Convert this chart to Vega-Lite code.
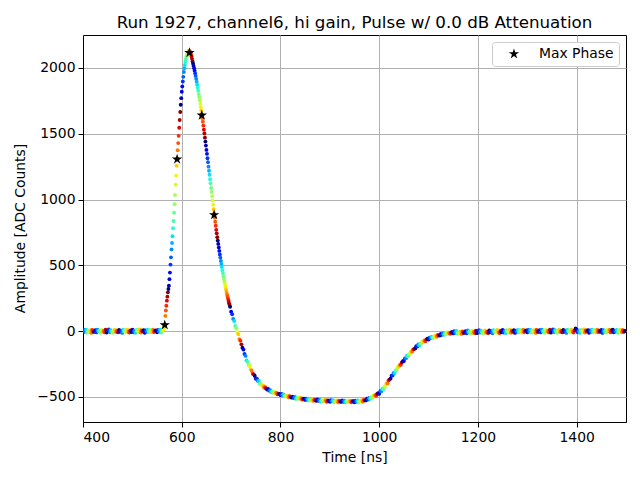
{
  "$schema": "https://vega.github.io/schema/vega-lite/v6.json",
  "width": 543,
  "height": 387,
  "autosize": {"type": "none"},
  "padding": {"left": 83, "top": 35, "right": 14, "bottom": 58},
  "title": {"text": "Run 1927, channel6, hi gain, Pulse w/ 0.0 dB Attenuation", "fontSize": 16.7, "fontWeight": "normal", "color": "black", "offset": 3},
  "config": {
    "font": "DejaVu Sans",
    "view": {"stroke": "black", "strokeWidth": 1},
    "axis": {
      "labelFontSize": 13.9, "labelColor": "black", "labelPadding": 3,
      "titleFontSize": 13.9, "titleFontWeight": "normal", "titleColor": "black",
      "domainColor": "black", "tickColor": "black", "tickSize": 5,
      "gridColor": "#b0b0b0", "gridWidth": 1
    },
    "legend": {
      "labelFontSize": 13.9, "labelColor": "black", "padding": 5,
      "strokeColor": "#cccccc", "fillColor": "white", "cornerRadius": 3,
      "symbolOffset": 10, "labelOffset": 18
    }
  },
  "datasets": {
    "pts": [
      {"t":400.1,"a":-8,"p":2},{"t":402.2,"a":10,"p":4},{"t":404.3,"a":-3,"p":6},{"t":406.3,"a":12,"p":8},{"t":408.4,"a":-11,"p":10},{"t":410.5,"a":3,"p":12},{"t":412.6,"a":-6,"p":14},{"t":414.7,"a":8,"p":16},{"t":416.8,"a":-13,"p":18},{"t":418.8,"a":9,"p":20},{"t":420.9,"a":-4,"p":22},
      {"t":423,"a":-4,"p":0},{"t":425.1,"a":7,"p":2},{"t":427.2,"a":-9,"p":4},{"t":429.3,"a":12,"p":6},{"t":431.3,"a":-2,"p":8},{"t":433.4,"a":6,"p":10},{"t":435.5,"a":-12,"p":12},{"t":437.6,"a":10,"p":14},{"t":439.7,"a":-5,"p":16},{"t":441.8,"a":3,"p":18},{"t":443.8,"a":-8,"p":20},{"t":445.9,"a":11,"p":22},
      {"t":448,"a":-10,"p":0},{"t":450.1,"a":4,"p":2},{"t":452.2,"a":13,"p":4},{"t":454.3,"a":-6,"p":6},{"t":456.3,"a":8,"p":8},{"t":458.4,"a":-3,"p":10},{"t":460.5,"a":-12,"p":12},{"t":462.6,"a":6,"p":14},{"t":464.7,"a":11,"p":16},{"t":466.8,"a":-7,"p":18},{"t":468.8,"a":2,"p":20},{"t":470.9,"a":-9,"p":22},
      {"t":473,"a":9,"p":0},{"t":475.1,"a":-5,"p":2},{"t":477.2,"a":3,"p":4},{"t":479.3,"a":-13,"p":6},{"t":481.3,"a":10,"p":8},{"t":483.4,"a":-2,"p":10},{"t":485.5,"a":7,"p":12},{"t":487.6,"a":-9,"p":14},{"t":489.7,"a":12,"p":16},{"t":491.8,"a":-4,"p":18},{"t":493.8,"a":-11,"p":20},{"t":495.9,"a":5,"p":22},
      {"t":498,"a":-6,"p":0},{"t":500.1,"a":11,"p":2},{"t":502.2,"a":-8,"p":4},{"t":504.3,"a":4,"p":6},{"t":506.3,"a":-12,"p":8},{"t":508.4,"a":9,"p":10},{"t":510.5,"a":2,"p":12},{"t":512.6,"a":-5,"p":14},{"t":514.7,"a":13,"p":16},{"t":516.8,"a":-10,"p":18},{"t":518.8,"a":6,"p":20},{"t":520.9,"a":-3,"p":22},
      {"t":523,"a":8,"p":0},{"t":525.1,"a":-12,"p":2},{"t":527.2,"a":5,"p":4},{"t":529.3,"a":-4,"p":6},{"t":531.3,"a":11,"p":8},{"t":533.4,"a":-7,"p":10},{"t":535.5,"a":10,"p":12},{"t":537.6,"a":-2,"p":14},{"t":539.7,"a":-9,"p":16},{"t":541.8,"a":12,"p":18},{"t":543.8,"a":-6,"p":20},{"t":545.9,"a":3,"p":22},
      {"t":548,"a":5,"p":0},{"t":550.1,"a":-8,"p":2},{"t":552.2,"a":10,"p":4},{"t":554.3,"a":-3,"p":6},{"t":556.3,"a":12,"p":8},{"t":558.4,"a":-11,"p":10},{"t":560.5,"a":4,"p":12},{"t":562.6,"a":9,"p":14},{"t":563.6,"a":14,"p":15},{"t":564.7,"a":33,"p":16},{"t":565.7,"a":50,"p":17},{"t":566.8,"a":116,"p":18},{"t":567.8,"a":157,"p":19},{"t":568.8,"a":193,"p":20},{"t":569.9,"a":232,"p":21},{"t":570.9,"a":262,"p":22},{"t":572,"a":295,"p":23},
      {"t":573,"a":320,"p":0},{"t":574,"a":345,"p":1},{"t":575.1,"a":395,"p":2},{"t":576.1,"a":445,"p":3},{"t":577.2,"a":506,"p":4},{"t":578.2,"a":561,"p":5},{"t":579.3,"a":621,"p":6},{"t":580.3,"a":670,"p":7},{"t":581.3,"a":721,"p":8},{"t":582.4,"a":782,"p":9},{"t":583.4,"a":837,"p":10},{"t":584.5,"a":900,"p":11},{"t":585.5,"a":965,"p":12},{"t":586.5,"a":1035,"p":13},{"t":587.6,"a":1112,"p":14},{"t":588.6,"a":1182,"p":15},{"t":589.7,"a":1256,"p":16},{"t":590.7,"a":1314,"p":17},{"t":591.8,"a":1374,"p":18},{"t":592.8,"a":1429,"p":19},{"t":593.8,"a":1484,"p":20},{"t":594.9,"a":1545,"p":21},{"t":595.9,"a":1604,"p":22},{"t":597,"a":1665,"p":23},
      {"t":598,"a":1720,"p":0},{"t":599,"a":1770,"p":1},{"t":600.1,"a":1819,"p":2},{"t":601.1,"a":1859,"p":3},{"t":602.2,"a":1897,"p":4},{"t":603.2,"a":1932,"p":5},{"t":604.3,"a":1969,"p":6},{"t":605.3,"a":1998,"p":7},{"t":606.3,"a":2023,"p":8},{"t":607.4,"a":2048,"p":9},{"t":608.4,"a":2067,"p":10},{"t":609.5,"a":2085,"p":11},{"t":610.5,"a":2098,"p":12},{"t":611.5,"a":2110,"p":13},{"t":612.6,"a":2119,"p":14},{"t":613.6,"a":2125,"p":15},{"t":614.7,"a":2130,"p":16},{"t":615.7,"a":2130,"p":17},{"t":616.8,"a":2125,"p":18},{"t":617.8,"a":2117,"p":19},{"t":618.8,"a":2103,"p":20},{"t":619.9,"a":2087,"p":21},{"t":620.9,"a":2069,"p":22},{"t":622,"a":2049,"p":23},
      {"t":623,"a":2032,"p":0},{"t":624,"a":2015,"p":1},{"t":625.1,"a":1998,"p":2},{"t":626.1,"a":1979,"p":3},{"t":627.2,"a":1958,"p":4},{"t":628.2,"a":1938,"p":5},{"t":629.3,"a":1916,"p":6},{"t":630.3,"a":1895,"p":7},{"t":631.3,"a":1873,"p":8},{"t":632.4,"a":1849,"p":9},{"t":633.4,"a":1827,"p":10},{"t":634.5,"a":1801,"p":11},{"t":635.5,"a":1778,"p":12},{"t":636.5,"a":1754,"p":13},{"t":637.6,"a":1727,"p":14},{"t":638.6,"a":1702,"p":15},{"t":639.7,"a":1675,"p":16},{"t":640.7,"a":1648,"p":17},{"t":641.8,"a":1618,"p":18},{"t":642.8,"a":1591,"p":19},{"t":643.8,"a":1562,"p":20},{"t":644.9,"a":1531,"p":21},{"t":645.9,"a":1502,"p":22},{"t":647,"a":1470,"p":23},
      {"t":648,"a":1440,"p":0},{"t":649,"a":1410,"p":1},{"t":650.1,"a":1377,"p":2},{"t":651.1,"a":1347,"p":3},{"t":652.2,"a":1314,"p":4},{"t":653.2,"a":1284,"p":5},{"t":654.3,"a":1250,"p":6},{"t":655.3,"a":1219,"p":7},{"t":656.3,"a":1188,"p":8},{"t":657.4,"a":1154,"p":9},{"t":658.4,"a":1123,"p":10},{"t":659.5,"a":1088,"p":11},{"t":660.5,"a":1058,"p":12},{"t":661.5,"a":1026,"p":13},{"t":662.6,"a":992,"p":14},{"t":663.6,"a":961,"p":15},{"t":664.7,"a":927,"p":16},{"t":665.7,"a":897,"p":17},{"t":666.8,"a":862,"p":18},{"t":667.8,"a":831,"p":19},{"t":668.8,"a":801,"p":20},{"t":669.9,"a":770,"p":21},{"t":670.9,"a":743,"p":22},{"t":672,"a":714,"p":23},
      {"t":673,"a":688,"p":0},{"t":674,"a":663,"p":1},{"t":675.1,"a":636,"p":2},{"t":676.1,"a":610,"p":3},{"t":677.2,"a":583,"p":4},{"t":678.2,"a":559,"p":5},{"t":679.3,"a":533,"p":6},{"t":680.3,"a":510,"p":7},{"t":681.3,"a":487,"p":8},{"t":682.4,"a":463,"p":9},{"t":683.4,"a":441,"p":10},{"t":684.5,"a":418,"p":11},{"t":685.5,"a":398,"p":12},{"t":686.5,"a":378,"p":13},{"t":687.6,"a":357,"p":14},{"t":688.6,"a":338,"p":15},{"t":689.7,"a":318,"p":16},{"t":690.7,"a":299,"p":17},{"t":691.8,"a":280,"p":18},{"t":692.8,"a":263,"p":19},{"t":693.8,"a":247,"p":20},{"t":694.9,"a":229,"p":21},{"t":695.9,"a":212,"p":22},{"t":697,"a":198,"p":23},
      {"t":698,"a":186,"p":0},{"t":700.1,"a":148,"p":2},{"t":702.2,"a":129,"p":4},{"t":704.3,"a":93,"p":6},{"t":706.3,"a":77,"p":8},{"t":708.4,"a":39,"p":10},{"t":710.5,"a":22,"p":12},{"t":712.6,"a":-7,"p":14},{"t":714.7,"a":-23,"p":16},{"t":716.8,"a":-60,"p":18},{"t":718.8,"a":-72,"p":20},{"t":720.9,"a":-100,"p":22},
      {"t":723,"a":-126,"p":0},{"t":725.1,"a":-140,"p":2},{"t":727.2,"a":-173,"p":4},{"t":729.3,"a":-188,"p":6},{"t":731.3,"a":-222,"p":8},{"t":733.4,"a":-234,"p":10},{"t":735.5,"a":-259,"p":12},{"t":737.6,"a":-265,"p":14},{"t":739.7,"a":-290,"p":16},{"t":741.8,"a":-300,"p":18},{"t":743.8,"a":-323,"p":20},{"t":745.9,"a":-328,"p":22},
      {"t":748,"a":-340,"p":0},{"t":750.1,"a":-361,"p":2},{"t":752.2,"a":-360,"p":4},{"t":754.3,"a":-378,"p":6},{"t":756.3,"a":-378,"p":8},{"t":758.4,"a":-400,"p":10},{"t":760.5,"a":-401,"p":12},{"t":762.6,"a":-413,"p":14},{"t":764.7,"a":-412,"p":16},{"t":766.8,"a":-430,"p":18},{"t":768.8,"a":-425,"p":20},{"t":770.9,"a":-435,"p":22},
      {"t":773,"a":-444,"p":0},{"t":775.1,"a":-439,"p":2},{"t":777.2,"a":-452,"p":4},{"t":779.3,"a":-449,"p":6},{"t":781.3,"a":-464,"p":8},{"t":783.4,"a":-458,"p":10},{"t":785.5,"a":-469,"p":12},{"t":787.6,"a":-460,"p":14},{"t":789.7,"a":-472,"p":16},{"t":791.8,"a":-468,"p":18},{"t":793.8,"a":-480,"p":20},{"t":795.9,"a":-474,"p":22},
      {"t":798,"a":-476,"p":0},{"t":800.1,"a":-486,"p":2},{"t":802.2,"a":-477,"p":4},{"t":804.3,"a":-487,"p":6},{"t":806.3,"a":-480,"p":8},{"t":808.4,"a":-495,"p":10},{"t":810.5,"a":-490,"p":12},{"t":812.6,"a":-497,"p":14},{"t":814.7,"a":-490,"p":16},{"t":816.8,"a":-503,"p":18},{"t":818.8,"a":-494,"p":20},{"t":820.9,"a":-501,"p":22},
      {"t":823,"a":-505,"p":0},{"t":825.1,"a":-497,"p":2},{"t":827.2,"a":-507,"p":4},{"t":829.3,"a":-500,"p":6},{"t":831.3,"a":-514,"p":8},{"t":833.4,"a":-506,"p":10},{"t":835.5,"a":-514,"p":12},{"t":837.6,"a":-504,"p":14},{"t":839.7,"a":-514,"p":16},{"t":841.8,"a":-509,"p":18},{"t":843.8,"a":-520,"p":20},{"t":845.9,"a":-512,"p":22},
      {"t":848,"a":-513,"p":0},{"t":850.1,"a":-522,"p":2},{"t":852.2,"a":-512,"p":4},{"t":854.3,"a":-521,"p":6},{"t":856.3,"a":-512,"p":8},{"t":858.4,"a":-526,"p":10},{"t":860.5,"a":-520,"p":12},{"t":862.6,"a":-526,"p":14},{"t":864.7,"a":-517,"p":16},{"t":866.8,"a":-530,"p":18},{"t":868.8,"a":-520,"p":20},{"t":870.9,"a":-525,"p":22},
      {"t":873,"a":-529,"p":0},{"t":875.1,"a":-519,"p":2},{"t":877.2,"a":-529,"p":4},{"t":879.3,"a":-522,"p":6},{"t":881.3,"a":-534,"p":8},{"t":883.4,"a":-526,"p":10},{"t":885.5,"a":-533,"p":12},{"t":887.6,"a":-521,"p":14},{"t":889.7,"a":-531,"p":16},{"t":891.8,"a":-525,"p":18},{"t":893.8,"a":-536,"p":20},{"t":895.9,"a":-527,"p":22},
      {"t":898,"a":-528,"p":0},{"t":900.1,"a":-536,"p":2},{"t":902.2,"a":-525,"p":4},{"t":904.3,"a":-533,"p":6},{"t":906.3,"a":-525,"p":8},{"t":908.4,"a":-538,"p":10},{"t":910.5,"a":-531,"p":12},{"t":912.6,"a":-536,"p":14},{"t":914.7,"a":-527,"p":16},{"t":916.8,"a":-540,"p":18},{"t":918.8,"a":-529,"p":20},{"t":920.9,"a":-534,"p":22},
      {"t":923,"a":-537,"p":0},{"t":925.1,"a":-527,"p":2},{"t":927.2,"a":-536,"p":4},{"t":929.3,"a":-528,"p":6},{"t":931.3,"a":-540,"p":8},{"t":933.4,"a":-531,"p":10},{"t":935.5,"a":-538,"p":12},{"t":937.6,"a":-527,"p":14},{"t":939.7,"a":-536,"p":16},{"t":941.8,"a":-530,"p":18},{"t":943.8,"a":-540,"p":20},{"t":945.9,"a":-531,"p":22},
      {"t":948,"a":-532,"p":0},{"t":950.1,"a":-540,"p":2},{"t":952.2,"a":-529,"p":4},{"t":954.3,"a":-537,"p":6},{"t":956.3,"a":-527,"p":8},{"t":958.4,"a":-540,"p":10},{"t":960.5,"a":-532,"p":12},{"t":962.6,"a":-536,"p":14},{"t":964.7,"a":-525,"p":16},{"t":966.8,"a":-536,"p":18},{"t":968.8,"a":-523,"p":20},{"t":970.9,"a":-526,"p":22},
      {"t":973,"a":-526,"p":0},{"t":975.1,"a":-513,"p":2},{"t":977.2,"a":-519,"p":4},{"t":979.3,"a":-508,"p":6},{"t":981.3,"a":-516,"p":8},{"t":983.4,"a":-504,"p":10},{"t":985.5,"a":-507,"p":12},{"t":987.6,"a":-491,"p":14},{"t":989.7,"a":-496,"p":16},{"t":991.8,"a":-485,"p":18},{"t":993.8,"a":-491,"p":20},{"t":995.9,"a":-477,"p":22},
      {"t":998,"a":-472,"p":0},{"t":1000.1,"a":-475,"p":2},{"t":1002.2,"a":-456,"p":4},{"t":1004.3,"a":-457,"p":6},{"t":1006.3,"a":-439,"p":8},{"t":1008.4,"a":-442,"p":10},{"t":1010.5,"a":-424,"p":12},{"t":1012.6,"a":-418,"p":14},{"t":1014.7,"a":-397,"p":16},{"t":1016.8,"a":-397,"p":18},{"t":1018.8,"a":-375,"p":20},{"t":1020.9,"a":-368,"p":22},
      {"t":1023,"a":-360,"p":0},{"t":1025.1,"a":-338,"p":2},{"t":1027.2,"a":-336,"p":4},{"t":1029.3,"a":-317,"p":6},{"t":1031.3,"a":-318,"p":8},{"t":1033.4,"a":-298,"p":10},{"t":1035.5,"a":-295,"p":12},{"t":1037.6,"a":-273,"p":14},{"t":1039.7,"a":-271,"p":16},{"t":1041.8,"a":-256,"p":18},{"t":1043.8,"a":-256,"p":20},{"t":1045.9,"a":-238,"p":22},
      {"t":1048,"a":-228,"p":0},{"t":1050.1,"a":-227,"p":2},{"t":1052.2,"a":-207,"p":4},{"t":1054.3,"a":-205,"p":6},{"t":1056.3,"a":-187,"p":8},{"t":1058.4,"a":-191,"p":10},{"t":1060.5,"a":-175,"p":12},{"t":1062.6,"a":-172,"p":14},{"t":1064.7,"a":-154,"p":16},{"t":1066.8,"a":-157,"p":18},{"t":1068.8,"a":-139,"p":20},{"t":1070.9,"a":-136,"p":22},
      {"t":1073,"a":-131,"p":0},{"t":1075.1,"a":-114,"p":2},{"t":1077.2,"a":-116,"p":4},{"t":1079.3,"a":-101,"p":6},{"t":1081.3,"a":-108,"p":8},{"t":1083.4,"a":-93,"p":10},{"t":1085.5,"a":-94,"p":12},{"t":1087.6,"a":-77,"p":14},{"t":1089.7,"a":-81,"p":16},{"t":1091.8,"a":-70,"p":18},{"t":1093.8,"a":-76,"p":20},{"t":1095.9,"a":-62,"p":22},
      {"t":1098,"a":-58,"p":0},{"t":1100.1,"a":-63,"p":2},{"t":1102.2,"a":-49,"p":4},{"t":1104.3,"a":-53,"p":6},{"t":1106.3,"a":-41,"p":8},{"t":1108.4,"a":-51,"p":10},{"t":1110.5,"a":-42,"p":12},{"t":1112.6,"a":-44,"p":14},{"t":1114.7,"a":-32,"p":16},{"t":1116.8,"a":-42,"p":18},{"t":1118.8,"a":-29,"p":20},{"t":1120.9,"a":-32,"p":22},
      {"t":1123,"a":-33,"p":0},{"t":1125.1,"a":-21,"p":2},{"t":1127.2,"a":-28,"p":4},{"t":1129.3,"a":-18,"p":6},{"t":1131.3,"a":-28,"p":8},{"t":1133.4,"a":-18,"p":10},{"t":1135.5,"a":-24,"p":12},{"t":1137.6,"a":-10,"p":14},{"t":1139.7,"a":-18,"p":16},{"t":1141.8,"a":-11,"p":18},{"t":1143.8,"a":-20,"p":20},{"t":1145.9,"a":-10,"p":22},
      {"t":1148,"a":-6,"p":0},{"t":1150.1,"a":-17,"p":2},{"t":1152.2,"a":-1,"p":4},{"t":1154.3,"a":-14,"p":6},{"t":1156.3,"a":1,"p":8},{"t":1158.4,"a":-20,"p":10},{"t":1160.5,"a":-8,"p":12},{"t":1162.6,"a":-16,"p":14},{"t":1164.7,"a":-3,"p":16},{"t":1166.8,"a":-21,"p":18},{"t":1168.8,"a":-2,"p":20},{"t":1170.9,"a":-14,"p":22},
      {"t":1173,"a":-11,"p":0},{"t":1175.1,"a":0,"p":2},{"t":1177.2,"a":-16,"p":4},{"t":1179.3,"a":5,"p":6},{"t":1181.3,"a":-9,"p":8},{"t":1183.4,"a":-1,"p":10},{"t":1185.5,"a":-19,"p":12},{"t":1187.6,"a":3,"p":14},{"t":1189.7,"a":-12,"p":16},{"t":1191.8,"a":-4,"p":18},{"t":1193.8,"a":-15,"p":20},{"t":1195.9,"a":4,"p":22},
      {"t":1198,"a":-15,"p":0},{"t":1200.1,"a":-1,"p":2},{"t":1202.2,"a":8,"p":4},{"t":1204.3,"a":-11,"p":6},{"t":1206.3,"a":3,"p":8},{"t":1208.4,"a":-8,"p":10},{"t":1210.5,"a":-17,"p":12},{"t":1212.6,"a":1,"p":14},{"t":1214.7,"a":6,"p":16},{"t":1216.8,"a":-12,"p":18},{"t":1218.8,"a":-3,"p":20},{"t":1220.9,"a":-14,"p":22},
      {"t":1223,"a":6,"p":0},{"t":1225.1,"a":-8,"p":2},{"t":1227.2,"a":0,"p":4},{"t":1229.3,"a":-16,"p":6},{"t":1231.3,"a":7,"p":8},{"t":1233.4,"a":-5,"p":10},{"t":1235.5,"a":4,"p":12},{"t":1237.6,"a":-12,"p":14},{"t":1239.7,"a":9,"p":16},{"t":1241.8,"a":-7,"p":18},{"t":1243.8,"a":-14,"p":20},{"t":1245.9,"a":2,"p":22},
      {"t":1248,"a":-8,"p":0},{"t":1250.1,"a":9,"p":2},{"t":1252.2,"a":-10,"p":4},{"t":1254.3,"a":2,"p":6},{"t":1256.3,"a":-14,"p":8},{"t":1258.4,"a":7,"p":10},{"t":1260.5,"a":0,"p":12},{"t":1262.6,"a":-7,"p":14},{"t":1264.7,"a":11,"p":16},{"t":1266.8,"a":-12,"p":18},{"t":1268.8,"a":4,"p":20},{"t":1270.9,"a":-5,"p":22},
      {"t":1273,"a":7,"p":0},{"t":1275.1,"a":-13,"p":2},{"t":1277.2,"a":4,"p":4},{"t":1279.3,"a":-5,"p":6},{"t":1281.3,"a":10,"p":8},{"t":1283.4,"a":-8,"p":10},{"t":1285.5,"a":9,"p":12},{"t":1287.6,"a":-3,"p":14},{"t":1289.7,"a":-10,"p":16},{"t":1291.8,"a":11,"p":18},{"t":1293.8,"a":-7,"p":20},{"t":1295.9,"a":2,"p":22},
      {"t":1298,"a":5,"p":0},{"t":1300.1,"a":-8,"p":2},{"t":1302.2,"a":10,"p":4},{"t":1304.3,"a":-3,"p":6},{"t":1306.3,"a":12,"p":8},{"t":1308.4,"a":-11,"p":10},{"t":1310.5,"a":3,"p":12},{"t":1312.6,"a":-6,"p":14},{"t":1314.7,"a":8,"p":16},{"t":1316.8,"a":-13,"p":18},{"t":1318.8,"a":9,"p":20},{"t":1320.9,"a":-4,"p":22},
      {"t":1323,"a":-4,"p":0},{"t":1325.1,"a":7,"p":2},{"t":1327.2,"a":-9,"p":4},{"t":1329.3,"a":12,"p":6},{"t":1331.3,"a":-2,"p":8},{"t":1333.4,"a":6,"p":10},{"t":1335.5,"a":-12,"p":12},{"t":1337.6,"a":10,"p":14},{"t":1339.7,"a":-5,"p":16},{"t":1341.8,"a":3,"p":18},{"t":1343.8,"a":-8,"p":20},{"t":1345.9,"a":11,"p":22},
      {"t":1348,"a":-10,"p":0},{"t":1350.1,"a":4,"p":2},{"t":1352.2,"a":13,"p":4},{"t":1354.3,"a":-6,"p":6},{"t":1356.3,"a":8,"p":8},{"t":1358.4,"a":-3,"p":10},{"t":1360.5,"a":-12,"p":12},{"t":1362.6,"a":6,"p":14},{"t":1364.7,"a":11,"p":16},{"t":1366.8,"a":-7,"p":18},{"t":1368.8,"a":2,"p":20},{"t":1370.9,"a":-9,"p":22},
      {"t":1373,"a":9,"p":0},{"t":1375.1,"a":-5,"p":2},{"t":1377.2,"a":3,"p":4},{"t":1379.3,"a":-13,"p":6},{"t":1381.3,"a":10,"p":8},{"t":1383.4,"a":-2,"p":10},{"t":1385.5,"a":7,"p":12},{"t":1387.6,"a":-9,"p":14},{"t":1389.7,"a":12,"p":16},{"t":1391.8,"a":-4,"p":18},{"t":1393.8,"a":-11,"p":20},{"t":1395.9,"a":5,"p":22},
      {"t":1398,"a":20,"p":0},{"t":1400.1,"a":11,"p":2},{"t":1402.2,"a":-8,"p":4},{"t":1404.3,"a":4,"p":6},{"t":1406.3,"a":-12,"p":8},{"t":1408.4,"a":9,"p":10},{"t":1410.5,"a":2,"p":12},{"t":1412.6,"a":-5,"p":14},{"t":1414.7,"a":13,"p":16},{"t":1416.8,"a":-10,"p":18},{"t":1418.8,"a":6,"p":20},{"t":1420.9,"a":-3,"p":22},
      {"t":1423,"a":8,"p":0},{"t":1425.1,"a":-12,"p":2},{"t":1427.2,"a":5,"p":4},{"t":1429.3,"a":-4,"p":6},{"t":1431.3,"a":11,"p":8},{"t":1433.4,"a":-7,"p":10},{"t":1435.5,"a":10,"p":12},{"t":1437.6,"a":-2,"p":14},{"t":1439.7,"a":-9,"p":16},{"t":1441.8,"a":12,"p":18},{"t":1443.8,"a":-6,"p":20},{"t":1445.9,"a":3,"p":22},
      {"t":1448,"a":-4,"p":0},{"t":1450.1,"a":9,"p":2},{"t":1452.2,"a":-13,"p":4},{"t":1454.3,"a":8,"p":6},{"t":1456.3,"a":-6,"p":8},{"t":1458.4,"a":3,"p":10},{"t":1460.5,"a":-11,"p":12},{"t":1462.6,"a":12,"p":14},{"t":1464.7,"a":-3,"p":16},{"t":1466.8,"a":10,"p":18},{"t":1468.8,"a":-8,"p":20},{"t":1470.9,"a":5,"p":22},
      {"t":1473,"a":11,"p":0},{"t":1475.1,"a":-8,"p":2},{"t":1477.2,"a":3,"p":4},{"t":1479.3,"a":-5,"p":6},{"t":1481.3,"a":10,"p":8},{"t":1483.4,"a":-12,"p":10},{"t":1485.5,"a":6,"p":12},{"t":1487.6,"a":-2,"p":14},{"t":1489.7,"a":12,"p":16},{"t":1491.8,"a":-9,"p":18},{"t":1493.8,"a":7,"p":20},{"t":1495.9,"a":-4,"p":22},
      {"t":1498,"a":2,"p":0}
    ],
    "stars": [
      {"t":565.6,"a":47,"s":"Max Phase"},
      {"t":590.6,"a":1306,"s":"Max Phase"},
      {"t":615.6,"a":2115,"s":"Max Phase"},
      {"t":640.6,"a":1640,"s":"Max Phase"},
      {"t":665.6,"a":883,"s":"Max Phase"}
    ]
  },
  "encoding": {
    "x": {
      "field": "t", "type": "quantitative",
      "scale": {"domain": [400, 1500], "nice": false, "zero": false},
      "axis": {"orient": "bottom", "title": "Time [ns]", "format": "d", "values": [400, 600, 800, 1000, 1200, 1400], "grid": true, "titlePadding": 7}
    },
    "y": {
      "field": "a", "type": "quantitative",
      "scale": {"domain": [-690, 2250], "nice": false, "zero": false},
      "axis": {"orient": "left", "title": "Amplitude [ADC Counts]", "format": "d", "values": [-500, 0, 500, 1000, 1500, 2000], "grid": true, "titleX": -63, "titleY": 193, "titleAlign": "center", "titleBaseline": "middle"}
    }
  },
  "layer": [
    {
      "data": {"name": "pts"},
      "mark": {"type": "circle", "size": 15, "opacity": 1, "clip": true},
      "encoding": {
        "color": {
          "field": "p", "type": "quantitative", "legend": null,
          "scale": {
            "domain": [0, 2.53, 2.88, 7.82, 8.63, 14.72, 15.18, 20.47, 20.93, 23],
            "range": ["#000080", "#0000ff", "#0000ff", "#00dbff", "#14ffe2", "#eeff08", "#ffec00", "#ff1300", "#e80000", "#800000"],
            "interpolate": "rgb"
          }
        }
      }
    },
    {
      "data": {"name": "stars"},
      "mark": {"type": "point", "filled": true, "color": "black", "size": 120, "opacity": 1},
      "encoding": {
        "shape": {
          "field": "s", "type": "nominal",
          "scale": {"range": ["M0,-1L0.225,-0.309L0.951,-0.309L0.363,0.118L0.588,0.809L0,0.382L-0.588,0.809L-0.363,0.118L-0.951,-0.309L-0.225,-0.309Z"]},
          "legend": {"title": null, "orient": "top-right", "offset": 7, "symbolSize": 120, "symbolFillColor": "black", "symbolStrokeColor": "black", "symbolStrokeWidth": 0}
        }
      }
    }
  ]
}
